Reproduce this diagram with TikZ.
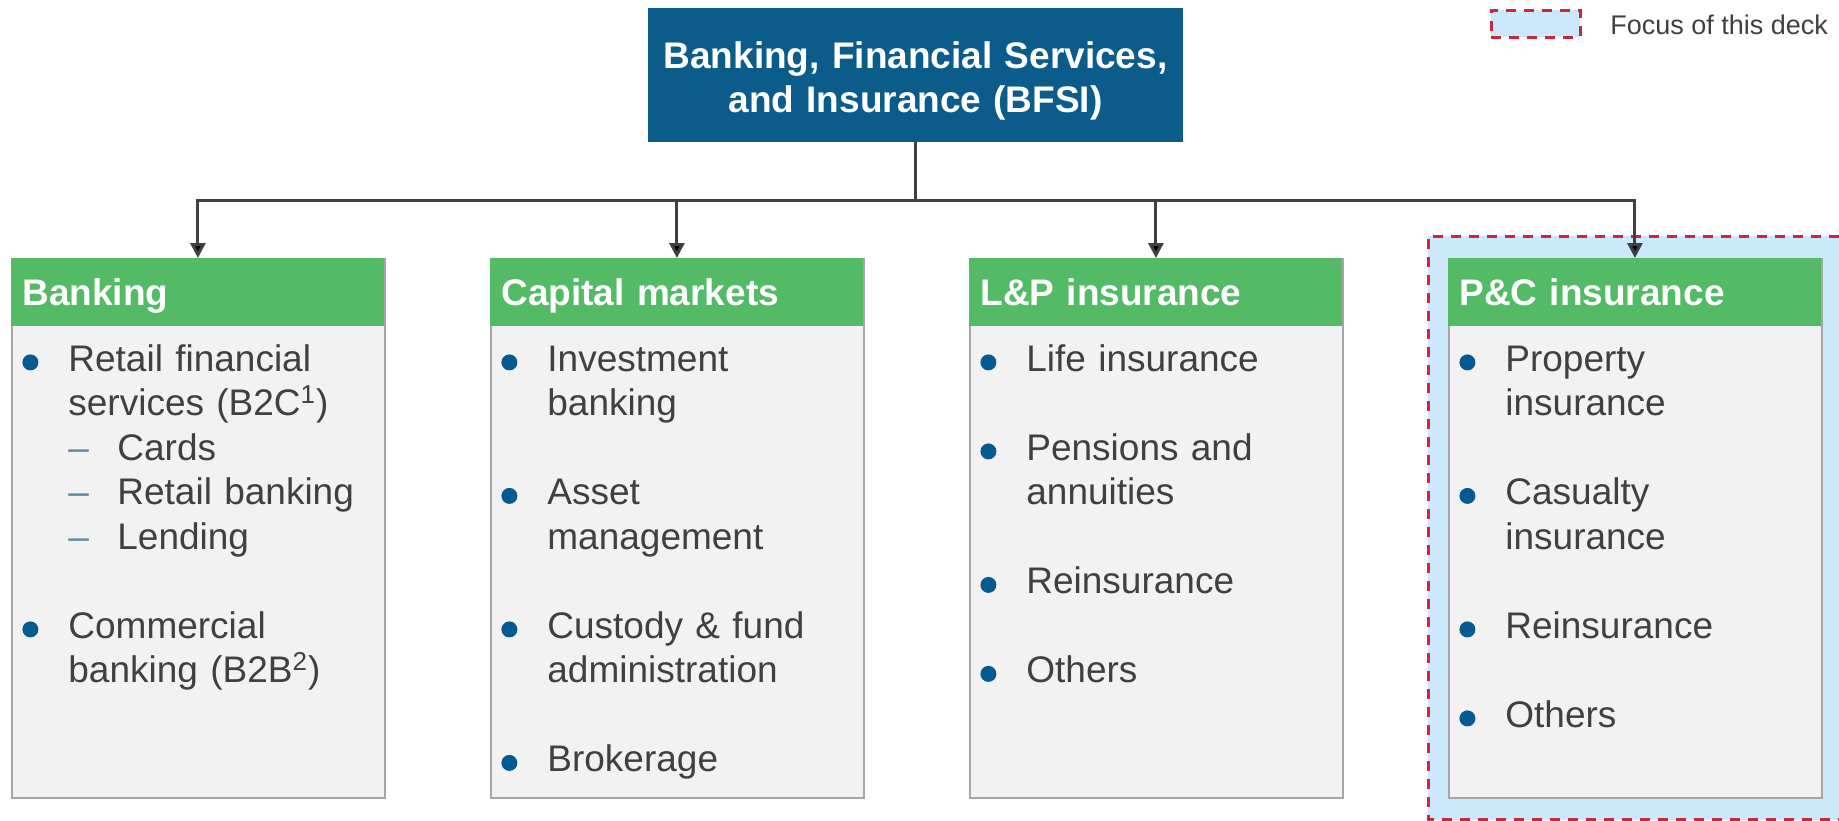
\documentclass[tikz,border=0pt]{standalone}
\usepackage{fontspec}
\setmainfont{Liberation Sans}
\usetikzlibrary{arrows.meta, positioning}

\definecolor{bfsiblue}{HTML}{0B5C8A}
\definecolor{segmentgreen}{HTML}{53BA66}
\definecolor{listgray}{HTML}{F2F2F2}
\definecolor{edgegray}{HTML}{A6A6A6}
\definecolor{textgray}{HTML}{404040}
\definecolor{dotblue}{HTML}{055A92}
\definecolor{dashblue}{HTML}{5D8BA6}
\definecolor{focusred}{HTML}{C8283A}
\definecolor{focusblue}{HTML}{CCE9FC}

\newcommand{\bodysize}{\fontsize{18.5}{22.25}\selectfont}
\newcommand{\legendsize}{\fontsize{13.5}{16}\selectfont}
% bullet, continuation indent, sub-item dash, empty line
\newcommand{\bul}{\makebox[23pt][l]{\tikz[baseline=-4.5pt]\fill[dotblue] (4pt,0) circle (4pt);}}
\newcommand{\cont}{\hspace*{23pt}}
\newcommand{\subdash}{\hspace*{23pt}\makebox[24.5pt][l]{\textcolor{dashblue}{–}}}
\newcommand{\skipline}{\\[22.25pt]}

\begin{document}
\begin{tikzpicture}[
  x=0.5pt, y=-0.5pt, font=\bodysize, text=textgray,
  >={Triangle[width=7.5pt, length=7.5pt]},
  topbox/.style={rectangle, fill=bfsiblue, text=white, font=\bodysize\bfseries, align=center,
    text width=267.5pt, minimum height=67pt, inner sep=0pt,
    execute at begin node=\rule{0pt}{19.5pt}},
  listbox/.style={rectangle, anchor=north west, fill=listgray, draw=edgegray, line width=1pt,
    minimum width=186.5pt, minimum height=269.5pt, inner sep=0pt},
  segment/.style={rectangle, anchor=north west, fill=segmentgreen, text=white, font=\bodysize\bfseries,
    text width=175.5pt, align=left, inner xsep=5.5pt, inner ysep=10.5pt, text height=13pt, text depth=0pt},
  items/.style={anchor=north west, align=left, text width=175pt, inner sep=0pt,
    execute at begin node=\rule{0pt}{15pt}},
  link/.style={draw=textgray, line width=1.5pt},
  focusline/.style={draw=focusred, line width=1.5pt, dash pattern=on 5pt off 4pt}
]
  \useasboundingbox (0,0) rectangle (1839,820);

  % highlighted segment
  \fill[focusblue] (1428,236) rectangle (1839,820);
  \draw[focusline] (1839,236) -- (1428,236) -- (1428,819) -- (1839,819);

  % legend
  \node[rectangle, fill=focusblue, focusline, minimum width=44.5pt, minimum height=13.5pt, inner sep=0pt] (key) at (1535.5,23.5) {};
  \node[anchor=base west, font=\legendsize, inner sep=0pt] (keytext) at (1610,34) {Focus of this deck};

  % root
  \node[topbox] (bfsi) at (915.5,75) {Banking, Financial Services,\\and Insurance (BFSI)};

  % segment boxes
  \node[listbox] (bankbg) at (11,258) {};
  \node[listbox] (capbg) at (490,258) {};
  \node[listbox] (lpbg) at (969,258) {};
  \node[listbox] (pcbg) at (1448,258) {};

  \node[segment] (bank) at (11,258) {Banking};
  \node[segment] (cap) at (490,258) {Capital markets};
  \node[segment] (lp) at (969,258) {L\&P insurance};
  \node[segment] (pc) at (1448,258) {P\&C insurance};

  \node[items] (banklist) at (22,341) {\bul Retail financial\\ \cont services (B2C\textsuperscript{1})\\
    \subdash Cards\\ \subdash Retail banking\\ \subdash Lending\skipline
    \bul Commercial\\ \cont banking (B2B\textsuperscript{2})};
  \node[items] (caplist) at (501,341) {\bul Investment\\ \cont banking\skipline
    \bul Asset\\ \cont management\skipline
    \bul Custody \& fund\\ \cont administration\skipline
    \bul Brokerage};
  \node[items] (lplist) at (980,341) {\bul Life insurance\skipline
    \bul Pensions and\\ \cont annuities\skipline
    \bul Reinsurance\skipline
    \bul Others};
  \node[items] (pclist) at (1459,341) {\bul Property\\ \cont insurance\skipline
    \bul Casualty\\ \cont insurance\skipline
    \bul Reinsurance\skipline
    \bul Others};

  % tree connectors
  \coordinate (fork) at (915.5,200);
  \draw[link] (bfsi.south) -- (fork);
  \draw[link, ->] (fork) -| (bank.north);
  \draw[link, ->] (fork) -| (cap.north);
  \draw[link, ->] (fork) -| (lp.north);
  \draw[link, ->] (fork) -| (pc.north);
\end{tikzpicture}
\end{document}
